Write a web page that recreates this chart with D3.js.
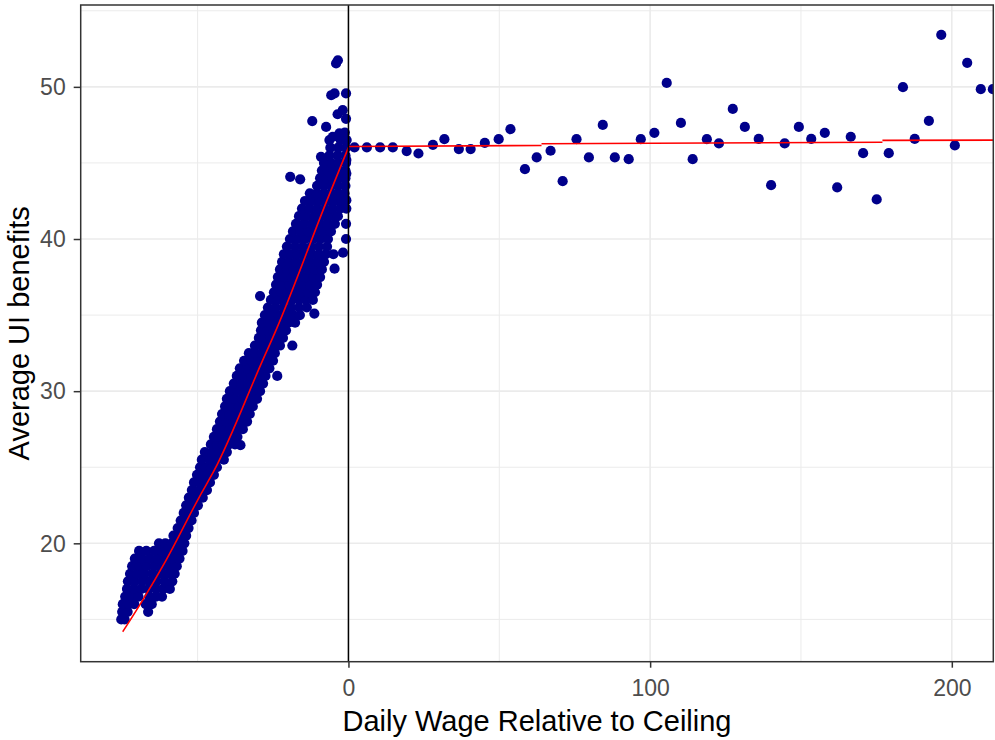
<!DOCTYPE html>
<html>
<head>
<meta charset="utf-8">
<script src="https://cdn.jsdelivr.net/npm/d3@7"></script>
<style>
body { margin: 0; background: #fff; }
text { font-family: "Liberation Sans", Arial, sans-serif; }
</style>
</head>
<body>
<svg class="chart"></svg>
<script>
const xMajor = [0, 100, 200];
const xMinor = [-50, 50, 150];
const yMajor = [20, 30, 40, 50];
const yMinor = [15, 25, 35, 45, 55];

// dense cloud below the ceiling, read row by row (benefit level -> wage positions)
const cloudY = [15, 15.5, 16, 16.5, 17, 17.5, 18, 18.5, 19, 19.5,
    20, 20.5, 21, 21.5, 22, 22.5, 23, 23.5, 24, 24.5,
    25, 25.5, 26, 26.5, 27, 27.5, 28, 28.5, 29, 29.5,
    30, 30.5, 31, 31.5, 32, 32.5, 33, 33.5, 34, 34.5,
    35, 35.5, 36, 36.5, 37, 37.5, 38, 38.5, 39, 39.5,
    40, 40.5, 41, 41.5, 42, 42.5, 43, 43.5, 44, 44.5,
    45, 45.5, 46, 46.5, 47];
const cloudX = [
    [-75.3, -74.2],
    [-75.0, -73.2, -66.4],
    [-74.8, -72.8, -71.0, -67.2, -65.2],
    [-74.0, -71.8, -69.6, -66.0, -63.8, -61.8],
    [-73.4, -71.0, -68.6, -66.2, -63.8, -61.4, -59.2],
    [-73.1, -70.8, -68.4, -66.0, -63.6, -61.0, -58.4],
    [-72.4, -70.0, -67.6, -65.0, -62.4, -60.0, -57.6],
    [-71.7, -69.2, -66.8, -64.2, -61.8, -59.2, -56.9],
    [-70.8, -68.4, -65.8, -63.4, -60.8, -58.4, -56.0],
    [-69.4, -67.0, -64.4, -62.0, -59.4, -57.0, -55.0],
    [-62.8, -60.7, -58.6, -56.5, -54.4],
    [-58.0, -55.9, -53.8],
    [-56.6, -54.8, -53.0],
    [-55.6, -53.8, -52.0],
    [-54.6, -52.8, -51.2],
    [-53.8, -51.8, -49.9],
    [-52.9, -50.6, -48.3],
    [-51.9, -49.4, -46.9],
    [-51.2, -49.4, -47.7, -45.9],
    [-50.2, -48.3, -46.5, -44.6],
    [-49.2, -47.3, -45.5, -43.6],
    [-48.6, -46.0, -43.6, -41.3],
    [-47.6, -45.2, -42.8, -40.3],
    [-45.6, -43.6, -41.6, -39.6, -37.6],
    [-44.6, -42.7, -40.7, -38.8, -36.8],
    [-43.6, -41.5, -39.3, -37.2, -35.0],
    [-42.6, -40.4, -38.1, -35.9, -33.6],
    [-41.9, -39.6, -37.3, -35.0, -32.7],
    [-40.9, -38.6, -36.3, -34.0, -31.7],
    [-40.3, -37.8, -35.3, -32.8, -30.3],
    [-39.3, -36.8, -34.3, -31.8, -29.3],
    [-38.0, -35.6, -33.2, -30.7, -28.3],
    [-37.0, -34.6, -32.3, -29.9, -27.5],
    [-36.0, -33.6, -31.1, -28.7, -26.2],
    [-34.6, -32.2, -29.8, -27.4, -25.0],
    [-33.0, -30.9, -28.7, -26.6, -24.4],
    [-31.0, -28.9, -26.9, -24.8, -22.7],
    [-29.7, -27.7, -25.7, -23.7, -21.7],
    [-29.0, -26.9, -24.9, -22.8, -20.7],
    [-28.7, -26.5, -24.3, -22.1, -19.9, -17.7],
    [-27.7, -25.4, -23.1, -20.7, -18.4, -16.1],
    [-26.7, -24.1, -21.5, -19.0, -16.4, -13.8],
    [-25.7, -23.4, -21.1, -18.8, -16.4, -14.1, -11.8],
    [-24.7, -22.4, -20.2, -17.9, -15.6, -13.4, -11.1],
    [-24.0, -21.7, -19.5, -17.2, -14.9, -12.7, -10.4],
    [-23.4, -21.1, -18.7, -16.4, -14.1, -11.7, -9.4],
    [-22.7, -20.4, -18.1, -15.8, -13.4, -11.1, -8.8],
    [-22.0, -19.7, -17.4, -15.1, -12.7, -10.4, -8.1],
    [-21.4, -19.1, -16.8, -14.5, -12.1, -9.8, -7.5],
    [-20.4, -17.7, -15.1, -12.4, -9.8, -7.1],
    [-19.4, -16.9, -14.4, -11.8, -9.3, -6.8],
    [-18.4, -15.9, -13.4, -10.8, -8.3, -5.8],
    [-17.4, -14.8, -12.2, -9.7, -7.1, -4.5],
    [-16.4, -13.8, -11.2, -8.7, -6.1, -3.5],
    [-15.4, -12.9, -10.4, -7.8, -5.3, -2.8],
    [-14.4, -12.0, -9.5, -7.1, -4.6, -2.2],
    [-12.8, -10.5, -8.2, -6.0, -3.6, -1.3],
    [-10.4, -8.1, -5.7, -3.4, -1.0],
    [-9.4, -7.3, -5.2, -3.1, -1.0],
    [-8.8, -6.9, -4.9, -3.0, -1.0],
    [-8.1, -5.7, -3.2, -0.8],
    [-6.3, -3.6, -1.0],
    [-6.0, -3.4, -0.8],
    [-2.6, -0.6],
    [-1.2]
];

// stray points around the cloud
const extraX = [-35.8, -23.6, -18.6, -11.3, -29.3, -4.6, -5.0, -1.8, -19.3, -16.0,
    -9.1, -12.0, -7.4, -6.3, -3.0, -5.2, -3.6, -0.8, -1.9, -5.7,
    -4.6, -0.8, -3.5, -4.1, -0.7, -0.7, -0.8, -0.8, -0.7, -0.7];
const extraY = [26.45, 31.0, 33.0, 35.1, 36.25, 38.05, 39.0, 39.1, 44.09, 43.92,
    45.4, 47.75, 47.37, 46.5, 46.94, 46.72, 48.2, 47.9, 48.47, 49.45,
    49.57, 49.57, 51.75, 51.54, 45.2, 44.3, 40.0, 41.0, 42.0, 42.55];

// binned points above the ceiling
const rightX = [2.0, 6.1, 10.5, 14.7, 19.3, 23.2, 28.0, 31.8, 36.6, 40.5,
    45.2, 49.8, 53.7, 58.5, 62.4, 67.0, 71.0, 75.6, 79.7, 84.3,
    88.3, 92.9, 96.9, 101.4, 105.5, 110.2, 114.1, 118.8, 122.8, 127.4,
    131.4, 136.0, 140.1, 144.6, 149.3, 153.4, 157.9, 162.0, 166.5, 170.6,
    175.1, 179.1, 183.8, 187.7, 192.4, 196.5, 201.0, 205.1, 209.6, 213.6];
const rightY = [46.02, 46.02, 46.02, 46.02, 45.78, 45.62, 46.19, 46.56, 45.91, 45.91,
    46.32, 46.56, 47.22, 44.59, 45.36, 45.80, 43.80, 46.56, 45.36, 47.50,
    45.36, 45.25, 46.56, 46.98, 50.26, 47.63, 45.25, 46.56, 46.28, 48.55,
    47.37, 46.58, 43.54, 46.28, 47.37, 46.58, 46.98, 43.39, 46.72, 45.64,
    42.60, 45.64, 49.98, 46.58, 47.77, 53.42, 46.15, 51.58, 49.85, 49.85];

// fitted lines
const fitLeftX = [-74.82, -68.19, -60.43, -49.39, -44.42, -28.41, -23.97, -6.86, 0];
const fitLeftY = [14.19, 16.27, 18.90, 23.06, 24.82, 32.04, 34.03, 42.67, 46.02];
const fitRightX = [[0, 64], [64, 177], [177, 214]];
const fitRightY = [[46.08, 46.15], [46.26, 46.36], [46.48, 46.50]];

const width = 995;
const height = 740;
const panel = {left: 80.7, right: 993.3, top: 5, bottom: 661.7};

const x = d3.scaleLinear()
    .domain([-88.75, 213.75])
    .range([panel.left, panel.right]);

const y = d3.scaleLinear()
    .domain([12.22, 55.38])
    .range([panel.bottom, panel.top]);

const svg = d3.select(".chart")
    .attr("width", width)
    .attr("height", height);

svg.append("rect")
    .attr("width", width)
    .attr("height", height)
    .attr("fill", "#fff");

svg.append("clipPath")
    .attr("id", "panel-clip")
    .append("rect")
    .attr("x", panel.left)
    .attr("y", panel.top)
    .attr("width", panel.right - panel.left)
    .attr("height", panel.bottom - panel.top);

const grid = svg.append("g").attr("class", "grid").attr("stroke", "#EBEBEB");

grid.selectAll(".xminor")
    .data(xMinor)
    .enter().append("line")
    .attr("x1", (d) => x(d)).attr("x2", (d) => x(d))
    .attr("y1", panel.top).attr("y2", panel.bottom)
    .attr("stroke-width", 1);

grid.selectAll(".yminor")
    .data(yMinor)
    .enter().append("line")
    .attr("x1", panel.left).attr("x2", panel.right)
    .attr("y1", (d) => y(d)).attr("y2", (d) => y(d))
    .attr("stroke-width", 1);

grid.selectAll(".xmajor")
    .data(xMajor)
    .enter().append("line")
    .attr("x1", (d) => x(d)).attr("x2", (d) => x(d))
    .attr("y1", panel.top).attr("y2", panel.bottom)
    .attr("stroke-width", 1.6);

grid.selectAll(".ymajor")
    .data(yMajor)
    .enter().append("line")
    .attr("x1", panel.left).attr("x2", panel.right)
    .attr("y1", (d) => y(d)).attr("y2", (d) => y(d))
    .attr("stroke-width", 1.6);

const points = [];
cloudY.forEach((v, i) => cloudX[i].forEach((w) => points.push([w, v])));
extraX.forEach((w, i) => points.push([w, extraY[i]]));
rightX.forEach((w, i) => points.push([w, rightY[i]]));

const plot = svg.append("g").attr("clip-path", "url(#panel-clip)");

plot.selectAll("circle")
    .data(points)
    .enter().append("circle")
    .attr("cx", (d) => x(d[0]))
    .attr("cy", (d) => y(d[1]))
    .attr("r", 5.1)
    .attr("fill", "#00008B");

const line = d3.line()
    .x((d) => x(d[0]))
    .y((d) => y(d[1]));

plot.append("path")
    .datum(fitLeftX.map((d, i) => [d, fitLeftY[i]]))
    .attr("d", line.curve(d3.curveMonotoneX))
    .attr("fill", "none")
    .attr("stroke", "red")
    .attr("stroke-width", 1.6);

plot.selectAll(".fit-right")
    .data(fitRightX.map((xs, i) => xs.map((d, j) => [d, fitRightY[i][j]])))
    .enter().append("path")
    .attr("d", d3.line().x((d) => x(d[0])).y((d) => y(d[1])))
    .attr("fill", "none")
    .attr("stroke", "red")
    .attr("stroke-width", 1.6);

plot.append("line")
    .attr("x1", x(0)).attr("x2", x(0))
    .attr("y1", panel.top).attr("y2", panel.bottom)
    .attr("stroke", "#000")
    .attr("stroke-width", 1.5);

svg.append("rect")
    .attr("x", panel.left)
    .attr("y", panel.top)
    .attr("width", panel.right - panel.left)
    .attr("height", panel.bottom - panel.top)
    .attr("fill", "none")
    .attr("stroke", "#333333")
    .attr("stroke-width", 1.5);

const xAxis = d3.axisBottom(x).tickValues(xMajor).tickSize(6).tickSizeOuter(0).tickPadding(12);
const yAxis = d3.axisLeft(y).tickValues(yMajor).tickSize(7).tickSizeOuter(0).tickPadding(8);

const gx = svg.append("g")
    .attr("transform", `translate(0,${panel.bottom})`)
    .call(xAxis);

const gy = svg.append("g")
    .attr("transform", `translate(${panel.left},0)`)
    .call(yAxis);

[gx, gy].forEach((g) => {
    g.select(".domain").remove();
    g.selectAll(".tick line").attr("stroke", "#333333").attr("stroke-width", 1.5);
    g.selectAll(".tick text")
        .attr("fill", "#4D4D4D")
        .style("font-size", "23px")
        .style("font-family", "\"Liberation Sans\", Arial, sans-serif");
});
gy.selectAll(".tick text").attr("dy", "0.34em");

svg.append("text")
    .attr("x", (panel.left + panel.right) / 2)
    .attr("y", 731)
    .attr("text-anchor", "middle")
    .style("font-size", "29px")
    .attr("fill", "#000")
    .text("Daily Wage Relative to Ceiling");

svg.append("text")
    .attr("transform", `translate(29,${(panel.top + panel.bottom) / 2}) rotate(-90)`)
    .attr("text-anchor", "middle")
    .style("font-size", "29px")
    .attr("fill", "#000")
    .text("Average UI benefits");
</script>
</body>
</html>
